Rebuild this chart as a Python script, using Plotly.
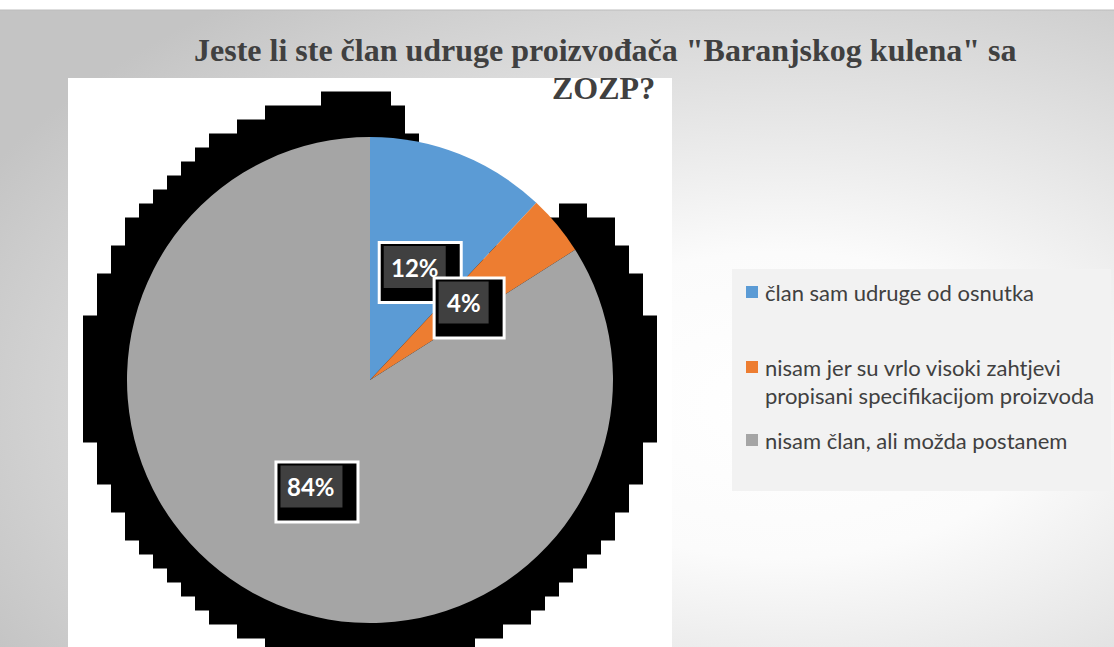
import math
import base64
import numpy as np
import plotly.graph_objects as go

# ---------------- data ----------------
title_line1 = "Jeste li ste član udruge proizvođača \"Baranjskog kulena\" sa"
title_line2 = "ZOZP?"
categories = [
    "član sam udruge od osnutka",
    "nisam jer su vrlo visoki zahtjevi propisani specifikacijom proizvoda",
    "nisam član, ali možda postanem",
]
legend_lines = [
    ["član sam udruge od osnutka"],
    ["nisam jer su vrlo visoki zahtjevi", "propisani specifikacijom proizvoda"],
    ["nisam član, ali možda postanem"],
]
values = [12, 4, 84]
label_texts = ["12%", "4%", "84%"]
colors = ["#5b9bd5", "#ed7d31", "#a5a5a5"]

# ---------------- geometry (pixels) ----------------
W, H = 1114, 647
CX, CY, R = 370.0, 380.0, 243.0


def px(x):
    return x / W


def py(y):
    return 1 - y / H


shapes = []
annotations = []
images = []

# background gradient (chart area starts at y=10)
svg = (
    '<svg xmlns="http://www.w3.org/2000/svg" width="1114" height="637" '
    'viewBox="0 0 1114 637" preserveAspectRatio="none">'
    '<defs><radialGradient id="g" cx="0.70" cy="0.62" r="0.80">'
    '<stop offset="0" stop-color="#ffffff"/>'
    '<stop offset="0.3" stop-color="#fbfbfb"/>'
    '<stop offset="1" stop-color="#c4c4c4"/>'
    '</radialGradient></defs>'
    '<rect width="1114" height="637" fill="url(#g)"/></svg>'
)
src = "data:image/svg+xml;base64," + base64.b64encode(svg.encode("utf-8")).decode("ascii")
images.append(dict(source=src, xref="paper", yref="paper", x=0, y=py(10),
                   sizex=1, sizey=637 / H, xanchor="left", yanchor="top",
                   sizing="stretch", layer="below"))
shapes.append(dict(type="line", xref="paper", yref="paper", x0=0, x1=1,
                   y0=py(10), y1=py(10), line=dict(color="#bcbcbc", width=1),
                   layer="below"))

# white plot area
shapes.append(dict(type="rect", xref="paper", yref="paper", x0=px(68), x1=px(672),
                   y0=py(647), y1=py(78), fillcolor="#ffffff", line=dict(width=0),
                   layer="below"))

# ---------------- blocky shadow: pixelated dilation of the largest slice ----------------
total = float(sum(values))
a0 = 360.0 * (values[0] + values[1]) / total   # start angle of grey slice (clockwise from top)
a1 = 360.0


def seg_dist(x, y, ang_deg):
    ux, uy = math.sin(math.radians(ang_deg)), -math.cos(math.radians(ang_deg))
    vx, vy = x - CX, y - CY
    t = max(0.0, min(R, vx * ux + vy * uy))
    return math.hypot(vx - t * ux, vy - t * uy)


def dist_to_sector(x, y):
    vx, vy = x - CX, y - CY
    r = math.hypot(vx, vy)
    ang = math.degrees(math.atan2(vx, -vy)) % 360
    if a0 <= ang <= a1:
        return max(0.0, r - R)
    return min(seg_dist(x, y, a0), seg_dist(x, y, a1))


d_glow = 43.0
cell = 14.0
gx0 = 83.0 - cell * 7
gy0 = 92.0 - cell * 7
ncx = int((W + 60 - gx0) / cell)
ncy = int((H + 60 - gy0) / cell)
for j in range(ncy):
    yc = gy0 + cell * (j + 0.5)
    row = [dist_to_sector(gx0 + cell * (i + 0.5), yc) <= d_glow for i in range(ncx)]
    i = 0
    while i < ncx:
        if row[i]:
            k = i
            while k + 1 < ncx and row[k + 1]:
                k += 1
            x0 = gx0 + cell * i
            x1 = gx0 + cell * (k + 1)
            y0 = gy0 + cell * j
            y1 = y0 + cell
            shapes.append(dict(type="rect", xref="paper", yref="paper",
                               x0=px(x0), x1=px(x1), y0=py(y1 + 0.5), y1=py(y0 - 0.5),
                               fillcolor="#000000", line=dict(width=0), layer="below"))
            i = k + 1
        else:
            i += 1

# ---------------- data labels ----------------
cum = 0.0
for v, t in zip(values, label_texts):
    mid = 360.0 * (cum + v / 2.0) / total
    cum += v
    lx = CX + 0.5 * R * math.sin(math.radians(mid))
    ly = CY - 0.5 * R * math.cos(math.radians(mid))
    ndig = sum(ch.isdigit() for ch in t)
    w = 38 + 12 * ndig
    h = 42
    dl, dr, dt, db = lx - w / 2, lx + w / 2, ly - h / 2, ly + h / 2
    ol, orr, ot, ob = dl - 6, dr + 17, dt - 5, db + 16
    shapes.append(dict(type="rect", xref="paper", yref="paper", x0=px(ol), x1=px(orr),
                       y0=py(ob), y1=py(ot), fillcolor="#ffffff", line=dict(width=0)))
    shapes.append(dict(type="rect", xref="paper", yref="paper", x0=px(ol + 3), x1=px(orr - 3),
                       y0=py(ob - 3), y1=py(ot + 3), fillcolor="#000000", line=dict(width=0)))
    shapes.append(dict(type="rect", xref="paper", yref="paper", x0=px(dl), x1=px(dr),
                       y0=py(db), y1=py(dt), fillcolor="#404040", line=dict(width=0)))
    annotations.append(dict(text="<b>" + t + "</b>", xref="paper", yref="paper",
                            x=px(lx), y=py(ly), xanchor="center", yanchor="middle",
                            showarrow=False,
                            font=dict(family="Lato, Open Sans, sans-serif", size=24, color="#ffffff")))

# ---------------- title ----------------
annotations.append(dict(text="<b>" + title_line1 + "</b>", xref="paper", yref="paper",
                        x=px(605), y=py(50), xanchor="center", yanchor="middle", showarrow=False,
                        font=dict(family="Liberation Serif, Times New Roman, serif", size=32,
                                  color="#404040")))
annotations.append(dict(text="<b>" + title_line2 + "</b>", xref="paper", yref="paper",
                        x=px(603), y=py(88), xanchor="center", yanchor="middle", showarrow=False,
                        font=dict(family="Liberation Serif, Times New Roman, serif", size=32,
                                  color="#404040")))

# ---------------- legend (manual) ----------------
shapes.append(dict(type="rect", xref="paper", yref="paper", x0=px(732), x1=px(1111),
                   y0=py(491), y1=py(269), fillcolor="#f2f2f2", line=dict(width=0)))
legend_first_y = [292, 367, 440]
line_gap = 28
for lines, col, y_first in zip(legend_lines, colors, legend_first_y):
    shapes.append(dict(type="rect", xref="paper", yref="paper", x0=px(746), x1=px(758),
                       y0=py(y_first + 6), y1=py(y_first - 6), fillcolor=col, line=dict(width=0)))
    for n, ln in enumerate(lines):
        annotations.append(dict(text=ln, xref="paper", yref="paper",
                                x=px(763), y=py(y_first + n * line_gap), xanchor="left",
                                yanchor="middle", showarrow=False,
                                font=dict(family="Lato, Open Sans, sans-serif", size=22,
                                          color="#404040")))

# ---------------- pie ----------------
fig = go.Figure(go.Pie(
    labels=categories,
    values=values,
    marker=dict(colors=colors, line=dict(width=0)),
    sort=False,
    direction="clockwise",
    rotation=0,
    textinfo="none",
    hoverinfo="label+percent",
    showlegend=False,
    domain=dict(x=[px(CX - R), px(CX + R)], y=[py(CY + R), py(CY - R)]),
))

fig.update_layout(
    width=W, height=H,
    margin=dict(l=0, r=0, t=0, b=0),
    paper_bgcolor="#ffffff",
    plot_bgcolor="rgba(0,0,0,0)",
    showlegend=False,
    shapes=shapes,
    annotations=annotations,
    images=images,
)

fig.write_html("out.html")
